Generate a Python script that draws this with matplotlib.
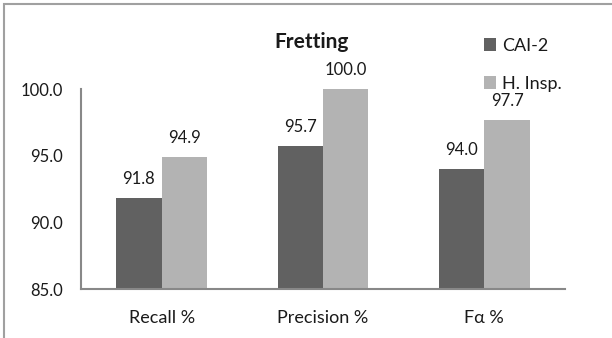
import matplotlib
matplotlib.use("Agg")
import matplotlib.pyplot as plt
import numpy as np
from matplotlib.patches import Rectangle

categories = ["Recall %", "Precision %", "Fα %"]
series_names = ["CAI-2", "H. Insp."]
cai2 = [91.8, 95.7, 94.0]
h_insp = [94.9, 100.0, 97.7]
y_ticks = [85.0, 90.0, 95.0, 100.0]

plt.rcParams["font.family"] = ["Lato", "DejaVu Sans"]
text_color = "#1a1a1a"
dark = "#616161"
light = "#b3b3b3"

fig = plt.figure(figsize=(6.12, 3.38), dpi=100)
ax = fig.add_axes([81 / 612, 1 - 289 / 338, 484 / 612, 200 / 338])

x = np.arange(len(categories))
w = 0.282
b1 = ax.bar(x - w / 2, cai2, w, color=dark, label=series_names[0], zorder=2)
b2 = ax.bar(x + w / 2, h_insp, w, color=light, label=series_names[1], zorder=2)

# value labels above each bar
for bars, vals in ((b1, cai2), (b2, h_insp)):
    for bar, v in zip(bars, vals):
        ax.annotate(f"{v:.1f}", (bar.get_x() + bar.get_width() / 2, v),
                    xytext=(0, 10), textcoords="offset points",
                    ha="center", va="baseline", fontsize=12, color=text_color,
                    annotation_clip=False)

ax.set_xlim(-0.5, len(categories) - 0.5)
ax.set_ylim(85, 100)
ax.set_yticks(y_ticks)
ax.set_yticklabels([f"{t:.1f}" for t in y_ticks])
ax.set_xticks(x)
ax.set_xticklabels(categories)
ax.tick_params(axis="x", length=0, pad=15, labelsize=13, labelcolor=text_color)
ax.tick_params(axis="y", length=0, pad=13, labelsize=12, labelcolor=text_color)

for side in ("top", "right"):
    ax.spines[side].set_visible(False)
for side in ("left", "bottom"):
    ax.spines[side].set_color("#888888")
    ax.spines[side].set_linewidth(1.5)

fig.text(312 / 612, 1 - 48 / 338, "Fretting", ha="center", va="baseline",
         fontsize=15, fontweight="bold", color=text_color)

ax.legend(handles=[b1, b2], loc="upper left",
          bbox_to_anchor=(484 / 612, 1 - 38 / 338), bbox_transform=fig.transFigure,
          frameon=False, fontsize=13, handlelength=0.68, handleheight=0.68,
          handletextpad=0.3, labelspacing=1.2, borderpad=0, borderaxespad=0,
          labelcolor=text_color)

# outer chart border (left and top edges)
fig.patches.append(Rectangle((4 / 612, -0.5), 2, 1.5 - 4 / 338,
                             transform=fig.transFigure, fill=False,
                             edgecolor="#a0a0a0", linewidth=1.5))

fig.savefig("out.png", dpi=100)
